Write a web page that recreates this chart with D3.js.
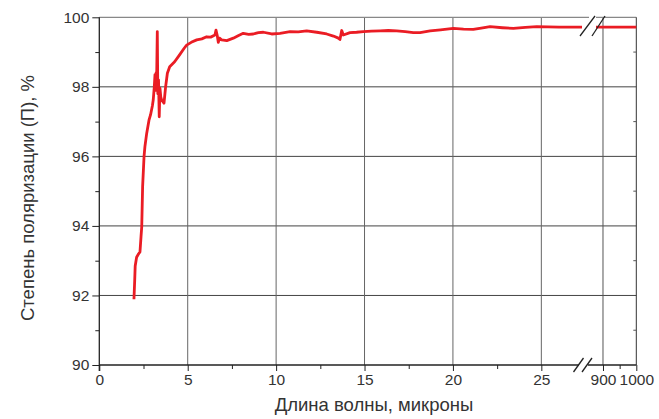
<!DOCTYPE html>
<html>
<head>
<meta charset="utf-8">
<script src="https://cdn.jsdelivr.net/npm/d3@7"></script>
<style>
  html, body { margin: 0; padding: 0; background: #fff; }
  svg { display: block; }
  text { font-family: "Liberation Sans", Arial, sans-serif; fill: #333; }
</style>
</head>
<body>
<svg id="chart" width="659" height="419"></svg>
<script>
// Measured polarization degree vs wavelength (broken x axis: 0–27 µm and 880–1000 µm)
const wavelengthNear = [1.96, 2.00, 2.03, 2.11, 2.20, 2.30, 2.36, 2.40, 2.45, 2.53, 2.58, 2.68, 2.81, 2.90, 3.00, 3.05, 3.11, 3.15, 3.18, 3.21, 3.24, 3.28, 3.31, 3.35, 3.39, 3.43, 3.48, 3.53, 3.66, 3.75, 3.85, 3.98, 4.26, 4.54, 4.80, 4.94, 5.20, 5.51, 5.80, 6.07, 6.30, 6.54, 6.60, 6.68, 6.73, 6.80, 6.92, 7.21, 7.58, 7.85, 8.14, 8.45, 8.71, 9.00, 9.28, 9.75, 10.22, 10.79, 11.25, 11.73, 12.30, 12.86, 13.24, 13.52, 13.61, 13.71, 13.80, 14.18, 14.55, 14.93, 15.40, 15.88, 16.35, 16.82, 17.30, 17.76, 18.14, 18.71, 19.30, 20.02, 20.60, 21.15, 21.60, 22.10, 22.80, 23.42, 24.10, 24.74, 26.00, 27.30];
const polarizationNear = [91.89, 92.40, 92.85, 93.10, 93.18, 93.25, 93.69, 93.97, 95.13, 95.99, 96.28, 96.66, 97.04, 97.20, 97.45, 97.62, 98.00, 98.35, 97.90, 98.40, 98.10, 99.59, 97.80, 98.20, 97.14, 97.96, 97.70, 97.62, 97.53, 98.00, 98.39, 98.58, 98.72, 98.92, 99.11, 99.20, 99.28, 99.35, 99.38, 99.44, 99.43, 99.49, 99.63, 99.45, 99.28, 99.40, 99.35, 99.33, 99.40, 99.47, 99.54, 99.51, 99.52, 99.56, 99.57, 99.52, 99.54, 99.59, 99.58, 99.61, 99.57, 99.52, 99.46, 99.40, 99.36, 99.62, 99.49, 99.56, 99.57, 99.59, 99.60, 99.61, 99.62, 99.61, 99.59, 99.56, 99.56, 99.61, 99.64, 99.68, 99.66, 99.65, 99.69, 99.73, 99.70, 99.68, 99.71, 99.73, 99.72, 99.72];
const wavelengthFar = [879, 1000];
const polarizationFar = [99.72, 99.72];

const yTicks = [90, 92, 94, 96, 98, 100];
const yMinorTicks = [91, 93, 95, 97, 99];
const xTicksNear = [0, 5, 10, 15, 20, 25];
const xMinorNear = [2.5, 7.5, 12.5, 17.5, 22.5];
const xTicksFar = [900, 1000];
const xMinorFar = [950];

const svg = d3.select("#chart");

const plotLeft = 99.3, plotRight = 636.3, plotTop = 17.3, plotBottom = 365;
const xNear = d3.scaleLinear().domain([0, 27.3]).range([plotLeft, 582]);
const xFar = d3.scaleLinear().domain([879, 1000]).range([596, plotRight]);
const y = d3.scaleLinear().domain([90, 100]).range([plotBottom, plotTop]);

// Grid
const grid = svg.append("g").attr("stroke", "#555").attr("stroke-width", 1);
yTicks.filter(v => v > 90 && v < 100).forEach(v => {
  grid.append("line").attr("x1", plotLeft).attr("x2", plotRight).attr("y1", y(v)).attr("y2", y(v)).attr("stroke", "#444");
});
xTicksNear.filter(v => v > 0).forEach(v => {
  grid.append("line").attr("x1", xNear(v)).attr("x2", xNear(v)).attr("y1", plotTop).attr("y2", plotBottom).attr("stroke", "#666");
});
grid.append("line").attr("x1", xFar(900)).attr("x2", xFar(900)).attr("y1", plotTop).attr("y2", plotBottom).attr("stroke", "#555");

// Frame: top and right edges
svg.append("line").attr("x1", plotLeft).attr("x2", plotRight).attr("y1", plotTop).attr("y2", plotTop)
  .attr("stroke", "#888").attr("stroke-width", 1.3);
svg.append("line").attr("x1", plotRight).attr("x2", plotRight).attr("y1", plotTop).attr("y2", plotBottom)
  .attr("stroke", "#333").attr("stroke-width", 1);
// right-side inner minor ticks
yMinorTicks.forEach(v => {
  svg.append("line").attr("x1", plotRight - 3).attr("x2", plotRight).attr("y1", y(v)).attr("y2", y(v))
    .attr("stroke", "#555");
});

// Curve
const line = (xs) => d3.line().x(d => xs(d[0])).y(d => y(d[1]));
const nearData = wavelengthNear.map((w, i) => [w, polarizationNear[i]]);
const farData = wavelengthFar.map((w, i) => [w, polarizationFar[i]]);
svg.append("path").datum(nearData).attr("d", line(xNear))
  .attr("fill", "none").attr("stroke", "#ea1c24").attr("stroke-width", 2.8).attr("stroke-linejoin", "round");
svg.append("path").datum(farData).attr("d", line(xFar))
  .attr("fill", "none").attr("stroke", "#ea1c24").attr("stroke-width", 2.8);

// Axes
function styleAxis(g) {
  g.select(".domain").remove();
  g.selectAll(".tick line").attr("stroke", "#222");
  g.selectAll(".tick text").attr("font-size", 15.5).attr("fill", "#333")
    .attr("font-family", "'Liberation Sans', Arial, sans-serif");
}

svg.append("g").attr("transform", `translate(0,${plotBottom})`)
  .call(d3.axisBottom(xNear).tickValues(xTicksNear).tickSize(6).tickPadding(3).tickFormat(d3.format("d")))
  .call(styleAxis);
svg.append("g").attr("transform", `translate(0,${plotBottom})`)
  .call(d3.axisBottom(xNear).tickValues(xMinorNear).tickSize(4).tickFormat(""))
  .call(styleAxis);
svg.append("g").attr("transform", `translate(0,${plotBottom})`)
  .call(d3.axisBottom(xFar).tickValues(xTicksFar).tickSize(6).tickPadding(3).tickFormat(d3.format("d")))
  .call(styleAxis);
svg.append("g").attr("transform", `translate(0,${plotBottom})`)
  .call(d3.axisBottom(xFar).tickValues(xMinorFar).tickSize(4).tickFormat(""))
  .call(styleAxis);

svg.append("g").attr("transform", `translate(${plotLeft},0)`)
  .call(d3.axisLeft(y).tickValues(yTicks).tickSize(7).tickPadding(3))
  .call(styleAxis);
svg.append("g").attr("transform", `translate(${plotLeft},0)`)
  .call(d3.axisLeft(y).tickValues(yMinorTicks).tickSize(4).tickFormat(""))
  .call(styleAxis);

// Axis lines
svg.append("line").attr("x1", plotLeft).attr("x2", plotLeft).attr("y1", plotTop).attr("y2", plotBottom + 6)
  .attr("stroke", "#222").attr("stroke-width", 1.3);
svg.append("line").attr("x1", plotLeft).attr("x2", 579).attr("y1", plotBottom).attr("y2", plotBottom)
  .attr("stroke", "#222").attr("stroke-width", 1.3);
svg.append("line").attr("x1", 588).attr("x2", plotRight).attr("y1", plotBottom).attr("y2", plotBottom)
  .attr("stroke", "#222").attr("stroke-width", 1.3);

// Axis break marks: gap in the top frame, then two slashes top and bottom
svg.append("rect").attr("x", 589).attr("y", plotTop - 1.5).attr("width", 7).attr("height", 3).attr("fill", "#fff");
const brk = svg.append("g").attr("stroke", "#222").attr("stroke-width", 1.3);
[[580, 36, 595, 16], [592, 36, 605, 16], [573.5, 372, 583.5, 358], [582, 372, 592, 358]].forEach(s => {
  brk.append("line").attr("x1", s[0]).attr("y1", s[1]).attr("x2", s[2]).attr("y2", s[3]);
});

// Titles
svg.append("text").attr("x", 374).attr("y", 411).attr("text-anchor", "middle")
  .attr("font-size", 18.5).text("Длина волны, микроны");
svg.append("text").attr("transform", "translate(34,198) rotate(-90)").attr("text-anchor", "middle")
  .attr("font-size", 18.5).text("Степень поляризации (П), %");
</script>
</body>
</html>
